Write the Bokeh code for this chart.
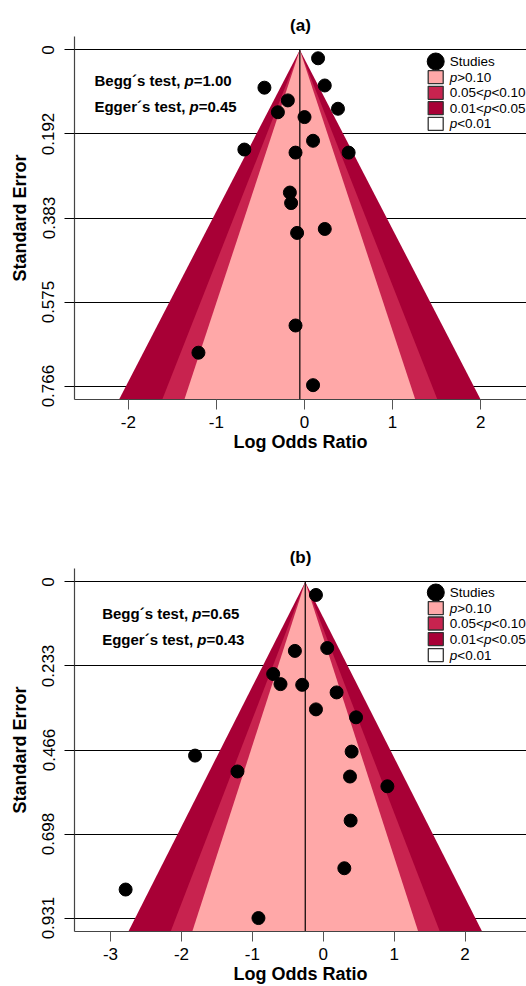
import math
from bokeh.plotting import figure
from bokeh.layouts import column
from bokeh.models import Range1d, FixedTicker
from bokeh.core.properties import value
from bokeh.embed import file_html
from bokeh.resources import INLINE

FONT = "Liberation Sans"

# ---------------- Panel (a) data ----------------
lor_a = [0.154, 0.230, -0.455, -0.189, -0.302, 0.380, 0.000, -0.683, 0.097,
         -0.102, 0.501, -0.166, -0.152, -0.084, 0.230, -0.102, -1.204, 0.097]
se_a = [0.019, 0.081, 0.086, 0.115, 0.142, 0.134, 0.153, 0.227, 0.207,
        0.234, 0.234, 0.325, 0.349, 0.417, 0.408, 0.628, 0.690, 0.764]
est_a = -0.053
yticks_a = [0, 0.1915, 0.383, 0.5745, 0.766]
ylabels_a = ["0", "0.192", "0.383", "0.575", "0.766"]
xticks_a = [-2, -1, 0, 1, 2]
xlabels_a = ["-2", "-1", "0", "1", "2"]
xlim_a = (-2.611, 2.52)
begg_a = "=1.00"
egger_a = "=0.45"

# ---------------- Panel (b) data ----------------
lor_b = [-0.103, -0.400, 0.056, -0.706, -0.603, -0.297, 0.188, -0.103, 0.462,
         -1.808, -1.210, -2.787, -0.914, 0.400, 0.377, 0.904, 0.386, 0.297]
se_b = [0.036, 0.191, 0.183, 0.255, 0.283, 0.285, 0.306, 0.353, 0.375,
        0.481, 0.525, 0.852, 0.931, 0.470, 0.539, 0.566, 0.661, 0.793]
est_b = -0.254
yticks_b = [0, 0.23275, 0.4655, 0.69825, 0.931]
ylabels_b = ["0", "0.233", "0.466", "0.698", "0.931"]
xticks_b = [-3, -2, -1, 0, 1, 2]
xlabels_b = ["-3", "-2", "-1", "0", "1", "2"]
xlim_b = (-3.508, 2.866)
begg_b = "=0.65"
egger_b = "=0.43"

# contour levels (z for p = 0.01, 0.05, 0.10) and fills
z_levels = [2.576, 1.960, 1.645]
z_colors = ["#A80036", "#C8234F", "#FFA8A8"]

legend_fill = ["#FFA8A8", "#C8234F", "#A80036", "white"]


def make_panel(title, lor, se, est, yticks, ylabels, xticks, xlabels, xlim, begg, egger,
               height, border_top, border_bottom, border_left, ann_px, leg_px, leg_rows):
    ymax = yticks[-1]
    pad = 0.04 * ymax
    y_top, y_bot = -pad, ymax + pad
    width = 526
    p = figure(width=width, height=height, output_backend="svg", toolbar_location=None,
               x_range=Range1d(*xlim), y_range=Range1d(y_bot, y_top),
               min_border_left=border_left, min_border_right=0,
               min_border_top=border_top, min_border_bottom=border_bottom)
    fw = width - border_left
    fh = 363

    def to_data(px, py):
        return (xlim[0] + px / fw * (xlim[1] - xlim[0]),
                y_top + py / fh * (y_bot - y_top))

    p.outline_line_color = None
    p.background_fill_color = "white"
    p.border_fill_color = "white"

    # title
    p.title.text = title
    p.title.align = "center"
    p.title.text_font = FONT
    p.title.text_font_size = "17px"
    p.title.text_font_style = "bold"
    p.title.text_color = "black"
    p.title.standoff = 4

    # grids
    p.xgrid.grid_line_color = None
    p.ygrid.ticker = FixedTicker(ticks=yticks)
    p.ygrid.grid_line_color = "black"
    p.ygrid.grid_line_width = 1

    # axes
    p.yaxis.ticker = FixedTicker(ticks=yticks)
    p.yaxis.major_label_overrides = {t: l for t, l in zip(yticks, ylabels)}
    p.yaxis.major_label_orientation = "parallel"
    p.xaxis.ticker = FixedTicker(ticks=xticks)
    p.xaxis.major_label_overrides = {t: l for t, l in zip(xticks, xlabels)}
    for ax in (p.xaxis, p.yaxis):
        ax.axis_line_color = "#444444"
        ax.axis_line_width = 1.2
        ax.major_tick_out = 10
        ax.major_tick_in = 0
        ax.minor_tick_line_color = None
        ax.major_label_text_font = FONT
        ax.major_label_text_font_size = "17px"
        ax.major_label_text_color = "black"
        ax.axis_label_text_font = FONT
        ax.axis_label_text_font_size = "18px"
        ax.axis_label_text_font_style = "bold"
        ax.axis_label_text_color = "black"
    p.xaxis.major_tick_line_color = "#555555"
    p.yaxis.major_tick_line_color = "black"
    p.xaxis.major_label_standoff = 6
    p.yaxis.major_label_standoff = 10
    p.xaxis.axis_label_standoff = 1
    p.yaxis.axis_label_standoff = 10
    p.xaxis.axis_label = "Log Odds Ratio"
    p.yaxis.axis_label = "Standard Error"

    # funnel contours
    for z, c in zip(z_levels, z_colors):
        p.patch([est, est - z * y_bot, est + z * y_bot], [0, y_bot, y_bot],
                fill_color=c, line_color=None)
    p.line([est, est], [0, y_bot], line_color="black", line_width=1.2)

    # studies
    p.scatter(lor, se, size=13, marker="circle", fill_color="black", line_color="black")

    # test annotations
    tstyle = dict(text_font=value(FONT), text_font_size="15px", text_baseline="middle",
                  text_align="left", text_color="black")
    for (px, py), lead, val, w in zip(ann_px, ["Begg\u00b4s test, ", "Egger\u00b4s test, "],
                                       [begg, egger], [90, 95]):
        x, y = to_data(px, py)
        p.text([x], [y], text=[lead], text_font_style="bold", **tstyle)
        p.text([x], [y], text=["p"], x_offset=w, text_font_style="bold italic", **tstyle)
        p.text([x], [y], text=[val], x_offset=w + 9.2, text_font_style="bold", **tstyle)

    # legend (manual, for italic p)
    lstyle = dict(text_font=value(FONT), text_font_size="13.5px", text_baseline="middle",
                  text_align="left", text_color="black")
    mx, _ = to_data(leg_px, 0)
    rows_y = [to_data(0, r)[1] for r in leg_rows]
    p.scatter([mx], [rows_y[0]], size=17, marker="circle", fill_color="black", line_color="black")
    p.rect([mx] * 4, rows_y[1:], width=15, height=13, width_units="screen",
           height_units="screen", fill_color=legend_fill, line_color="#333333", line_width=1.3)
    pieces = [
        [("Studies", "normal")],
        [("p", "italic"), (">0.10", "normal")],
        [("0.05<", "normal"), ("p", "italic"), ("<0.10", "normal")],
        [("0.01<", "normal"), ("p", "italic"), ("<0.05", "normal")],
        [("p", "italic"), ("<0.01", "normal")],
    ]
    widths = {"p": 7.5, ">0.10": 34.2, "0.05<": 34.2, "0.01<": 34.2}
    for y, row in zip(rows_y, pieces):
        off = 14
        for t, st in row:
            p.text([mx], [y], text=[t], x_offset=off, text_font_style=st, **lstyle)
            off += widths.get(t, 0)
    return p


pa = make_panel("(a)", lor_a, se_a, est_a, yticks_a, ylabels_a, xticks_a, xlabels_a, xlim_a,
                begg_a, egger_a, height=491, border_top=36, border_bottom=92, border_left=73,
                ann_px=[(20, 44), (20, 70)], leg_px=362, leg_rows=[25, 40.7, 56.3, 71.7, 87.3])
pb = make_panel("(b)", lor_b, se_b, est_b, yticks_b, ylabels_b, xticks_b, xlabels_b, xlim_b,
                begg_b, egger_b, height=495, border_top=77, border_bottom=55, border_left=74,
                ann_px=[(27.7, 45), (27.7, 71.3)], leg_px=361.3, leg_rows=[24, 39.6, 55, 70.6, 86.6])

layout = column(pa, pb, spacing=0)
open("out.html", "w").write(file_html(layout, INLINE))
